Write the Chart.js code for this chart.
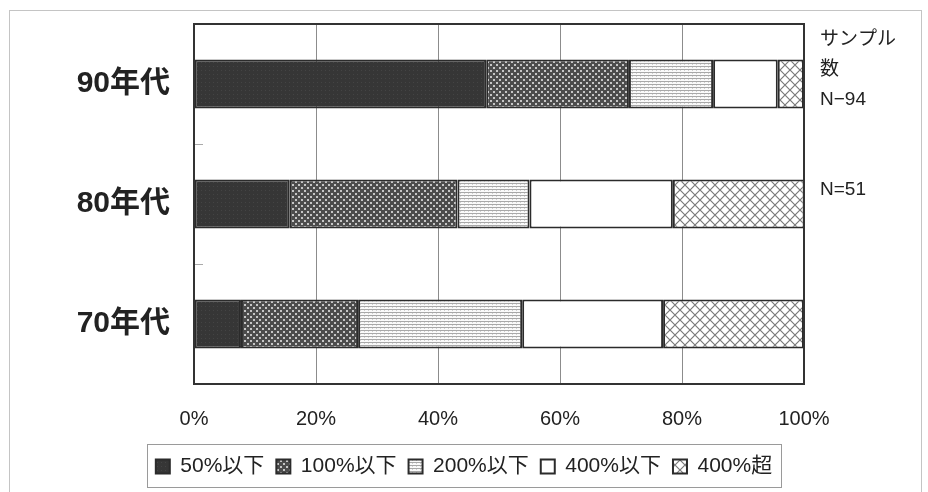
<!DOCTYPE html>
<html>
<head>
<meta charset="utf-8">
<script src="https://cdn.jsdelivr.net/npm/chart.js@4/dist/chart.umd.min.js"></script>
<style>
  html, body { margin: 0; padding: 0; background: #fff; }
  #wrap { position: relative; width: 928px; height: 492px; }
  #frame { position: absolute; left: 9px; top: 10px; width: 911px; height: 490px;
           border: 1px solid #c4c4c4; pointer-events: none; }
</style>
</head>
<body>
<div id="wrap">
  <canvas id="c" width="928" height="492"></canvas>
  <div id="frame"></div>
</div>
<script>
// 年代別の倍率分布（帯グラフ, 100%積み上げ）
var categories = ['90年代', '80年代', '70年代'];
var seriesLabels = ['50%以下', '100%以下', '200%以下', '400%以下', '400%超'];
var s50 = [47.9, 15.7, 7.7];
var s100 = [23.4, 27.5, 19.2];
var s200 = [13.8, 11.8, 26.9];
var s400 = [10.6, 23.5, 23.1];
var sOver = [4.3, 21.6, 23.1];
var xTicks = [0, 20, 40, 60, 80, 100];
var sampleNotes = [['サンプル', '数', 'N−94'], ['N=51']];

var FONT = '"Liberation Sans", Arial, "Noto Sans CJK JP", sans-serif';

function makePattern(kind) {
  var c = document.createElement('canvas');
  var g = c.getContext('2d');
  if (kind === 'dark') {
    c.width = 4; c.height = 4;
    g.fillStyle = '#363636'; g.fillRect(0, 0, 4, 4);
    g.fillStyle = '#444'; g.fillRect(1, 2, 1, 1);
  } else if (kind === 'dots') {
    c.width = 6; c.height = 6;
    g.fillStyle = '#4c4c4c'; g.fillRect(0, 0, 6, 6);
    g.fillStyle = '#c6c6c6';
    g.fillRect(1, 1, 2, 2); g.fillRect(4, 4, 2, 2);
  } else if (kind === 'hlines') {
    c.width = 4; c.height = 3;
    g.fillStyle = '#fafafa'; g.fillRect(0, 0, 4, 3);
    g.fillStyle = '#a8a8a8'; g.fillRect(0, 0, 4, 1);
    g.fillStyle = '#d0d0d0'; g.fillRect(0, 1, 1, 1);
  } else if (kind === 'cross') {
    c.width = 10; c.height = 10;
    g.fillStyle = '#fff'; g.fillRect(0, 0, 10, 10);
    g.strokeStyle = '#7a7a7a'; g.lineWidth = 1.2;
    g.beginPath();
    g.moveTo(0, 0); g.lineTo(10, 10);
    g.moveTo(10, 0); g.lineTo(0, 10);
    g.stroke();
  } else {
    return '#ffffff';
  }
  return g.createPattern(c, 'repeat');
}

function ds(label, data, kind) {
  return {
    label: label,
    data: data,
    backgroundColor: makePattern(kind),
    borderColor: '#2b2b2b',
    borderWidth: 2,
    borderSkipped: false,
    barPercentage: 0.41,
    categoryPercentage: 1
  };
}

// 枠線・内側の目盛り・右側のサンプル数
var decor = {
  id: 'decor',
  afterDatasetsDraw: function (chart) {
    var ctx = chart.ctx, a = chart.chartArea, y = chart.scales.y;
    ctx.save();
    // small inner ticks between categories
    ctx.strokeStyle = '#aaa'; ctx.lineWidth = 1;
    for (var i = 0; i < categories.length - 1; i++) {
      var py = Math.round((y.getPixelForValue(i) + y.getPixelForValue(i + 1)) / 2) + 0.5;
      ctx.beginPath(); ctx.moveTo(a.left, py); ctx.lineTo(a.left + 9, py); ctx.stroke();
    }
    ctx.strokeStyle = '#333'; ctx.lineWidth = 2;
    ctx.strokeRect(a.left, a.top, a.right - a.left, a.bottom - a.top);
    ctx.restore();
  },
  afterDraw: function (chart) {
    var ctx = chart.ctx, a = chart.chartArea, y = chart.scales.y, lg = chart.legend;
    ctx.save();
    ctx.fillStyle = '#222';
    ctx.font = '19px ' + FONT;
    ctx.textAlign = 'left';
    ctx.textBaseline = 'middle';
    var tx = a.right + 16;
    sampleNotes[0].forEach(function (t, k) { ctx.fillText(t, tx, a.top + 16 + k * 30); });
    sampleNotes[1].forEach(function (t, k) { ctx.fillText(t, tx, y.getPixelForValue(1) - 14 + k * 30); });
    // legend box
    if (lg && lg.legendHitBoxes && lg.legendHitBoxes.length) {
      var hb = lg.legendHitBoxes;
      var l = hb[0].left, r = hb[hb.length - 1].left + hb[hb.length - 1].width;
      ctx.strokeStyle = '#9a9a9a'; ctx.lineWidth = 1;
      ctx.strokeRect(Math.round(l - 9) + 0.5, Math.round(lg.top) + 0.5, Math.round(r - l + 18), Math.round(lg.bottom - lg.top));
    }
    ctx.restore();
  }
};

function noPad(s) { s.paddingTop = 0; s.paddingBottom = 0; }

new Chart(document.getElementById('c'), {
  type: 'bar',
  data: {
    labels: categories,
    datasets: [
      ds(seriesLabels[0], s50, 'dark'),
      ds(seriesLabels[1], s100, 'dots'),
      ds(seriesLabels[2], s200, 'hlines'),
      ds(seriesLabels[3], s400, 'white'),
      ds(seriesLabels[4], sOver, 'cross')
    ]
  },
  options: {
    indexAxis: 'y',
    responsive: false,
    animation: false,
    layout: { padding: { left: 0, top: 24, right: 0, bottom: 5 } },
    scales: {
      x: {
        stacked: true, min: 0, max: 100,
        afterBuildTicks: function (s) { s.ticks = xTicks.map(function (v) { return { value: v }; }); },
        afterFit: function (s) { s.height = 60; s.paddingLeft = 0; s.paddingRight = 0; },
        grid: { color: '#8c8c8c', lineWidth: 1, drawTicks: false },
        border: { display: false },
        ticks: { padding: 23, color: '#222', font: { family: FONT, size: 20 },
                 callback: function (v) { return v + '%'; } }
      },
      y: {
        stacked: true,
        afterFit: function (s) { s.width = 194; noPad(s); },
        grid: { display: false },
        border: { display: false },
        ticks: { padding: 16, color: '#222', font: { family: FONT, size: 30, weight: 'bold' } }
      },
      // empty right-hand strip reserved for the sample-size notes
      yNote: {
        type: 'category', position: 'right',
        afterFit: function (s) { s.width = 124; noPad(s); },
        grid: { display: false },
        border: { display: false },
        ticks: { display: false }
      }
    },
    plugins: {
      legend: {
        position: 'bottom',
        labels: { boxWidth: 14, boxHeight: 14, padding: 12, color: '#222',
                  font: { family: FONT, size: 21 } }
      },
      tooltip: { enabled: false }
    }
  },
  plugins: [decor]
});
</script>
</body>
</html>
